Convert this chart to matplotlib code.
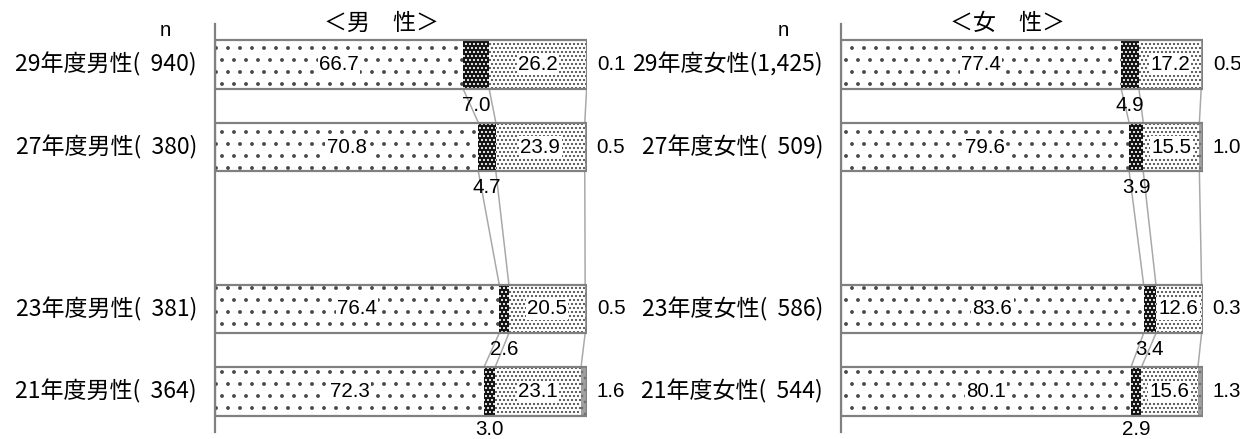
import numpy as np
import matplotlib.pyplot as plt

# drawn at 72 dpi so that 1 pt == 1 px (gives a denser hatch grid)
DPI = 72
plt.rcParams['font.family'] = ['Noto Sans CJK JP', 'DejaVu Sans']
plt.rcParams['hatch.linewidth'] = 1.4

#%% data (percent), rows from top to bottom
rowLabelsMen = ['29年度男性', '27年度男性', '23年度男性', '21年度男性']
nMen = [940, 380, 381, 364]
seg1Men = [66.7, 70.8, 76.4, 72.3]
seg2Men = [7.0, 4.7, 2.6, 3.0]
seg3Men = [26.2, 23.9, 20.5, 23.1]
seg4Men = [0.1, 0.5, 0.5, 1.6]

rowLabelsWomen = ['29年度女性', '27年度女性', '23年度女性', '21年度女性']
nWomen = [1425, 509, 586, 544]
seg1Women = [77.4, 79.6, 83.6, 80.1]
seg2Women = [4.9, 3.9, 3.4, 2.9]
seg3Women = [17.2, 15.5, 12.6, 15.6]
seg4Women = [0.5, 1.0, 0.3, 1.3]

#%% layout / style
yPos = np.array([0, 1, 2.96, 3.96])   # gap where 25年度 would be
barH = 0.59
faceColors = ['white', '#101010', 'white', '#a0a0a0']
hatches = ['.', '...', '...', '..']
hatchColors = ['#484848', 'white', '#4a4a4a', '#707070']
edgeGray = '#808080'
numFont = ['Liberation Sans', 'DejaVu Sans']
fsNum = 20.5      # px == pt at 72 dpi
fsLab = 23


def fmtN(n):
    s = '{:,}'.format(n)
    if len(s) < 5:
        s = '  ' + s
    return '(' + s + ')'


def drawPanel(ax, labels, ns, segs):
    segs = np.array(segs, dtype=float)          # shape (4 segs, 4 rows)
    cum = np.cumsum(segs, axis=0)
    lefts = np.vstack([np.zeros(len(yPos)), cum[:-1]])

    for k in range(4):
        ax.barh(yPos, segs[k], left=lefts[k], height=barH,
                color=faceColors[k], linewidth=0, zorder=2)
        ax.barh(yPos, segs[k], left=lefts[k], height=barH, fill=False,
                hatch=hatches[k], edgecolor=hatchColors[k], linewidth=0,
                zorder=3)
    ax.barh(yPos, cum[-1], height=barH, fill=False, edgecolor=edgeGray,
            linewidth=2.2, zorder=4)

    # connector lines between neighbouring bars
    for i in range(len(yPos) - 1):
        for k in range(3):
            ax.plot([cum[k][i], cum[k][i + 1]],
                    [yPos[i] + barH / 2, yPos[i + 1] - barH / 2],
                    color='#a8a8a8', lw=1.5, zorder=1)

    for i, y in enumerate(yPos):
        for k in (0, 2):
            ax.text(lefts[k][i] + segs[k][i] / 2, y, '%.1f' % segs[k][i],
                    ha='center', va='center', fontsize=fsNum, family=numFont,
                    bbox=dict(facecolor='white', edgecolor='none', pad=1.5),
                    zorder=6)
        off = 0.2 if i < len(yPos) - 1 else 0.16
        ax.text(lefts[1][i] + segs[1][i] / 2, y + barH / 2 + off,
                '%.1f' % segs[1][i], ha='center', va='center',
                fontsize=fsNum, family=numFont, zorder=6, clip_on=False)
        ax.annotate('%.1f' % segs[3][i], xy=(cum[-1][i], y),
                    xytext=(10, 0), textcoords='offset points',
                    ha='left', va='center', fontsize=fsNum, family=numFont,
                    annotation_clip=False)
        ax.annotate(labels[i] + fmtN(ns[i]), xy=(0, y),
                    xycoords=('axes fraction', 'data'),
                    xytext=(-18, 0), textcoords='offset points',
                    ha='right', va='center', fontsize=fsLab,
                    annotation_clip=False)

    ax.set_xlim(0, 100)
    ax.set_ylim(yPos[-1] + 0.49, yPos[0] - 0.49)
    for s in ['top', 'right', 'bottom']:
        ax.spines[s].set_visible(False)
    ax.spines['left'].set_color(edgeGray)
    ax.spines['left'].set_linewidth(2.2)
    ax.set_xticks([])
    ax.set_yticks([])
    ax.patch.set_alpha(0)


W, H = 1240, 439
fig = plt.figure(figsize=(W / DPI, H / DPI), dpi=DPI)
axMen = fig.add_axes([215 / W, 7 / H, 372 / W, 408 / H])
axWomen = fig.add_axes([841 / W, 7 / H, 362 / W, 408 / H])

drawPanel(axMen, rowLabelsMen, nMen,
          [seg1Men, seg2Men, seg3Men, seg4Men])
drawPanel(axWomen, rowLabelsWomen, nWomen,
          [seg1Women, seg2Women, seg3Women, seg4Women])

fig.text(382 / W, 1 - 23 / H, '＜男　性＞', ha='center', va='center',
         fontsize=23)
fig.text(1008 / W, 1 - 23 / H, '＜女　性＞', ha='center', va='center',
         fontsize=23)
fig.text(165 / W, 1 - 30 / H, 'n', ha='center', va='center', fontsize=fsNum,
         family=numFont)
fig.text(783 / W, 1 - 30 / H, 'n', ha='center', va='center', fontsize=fsNum,
         family=numFont)

fig.savefig('out.png', dpi=DPI)
